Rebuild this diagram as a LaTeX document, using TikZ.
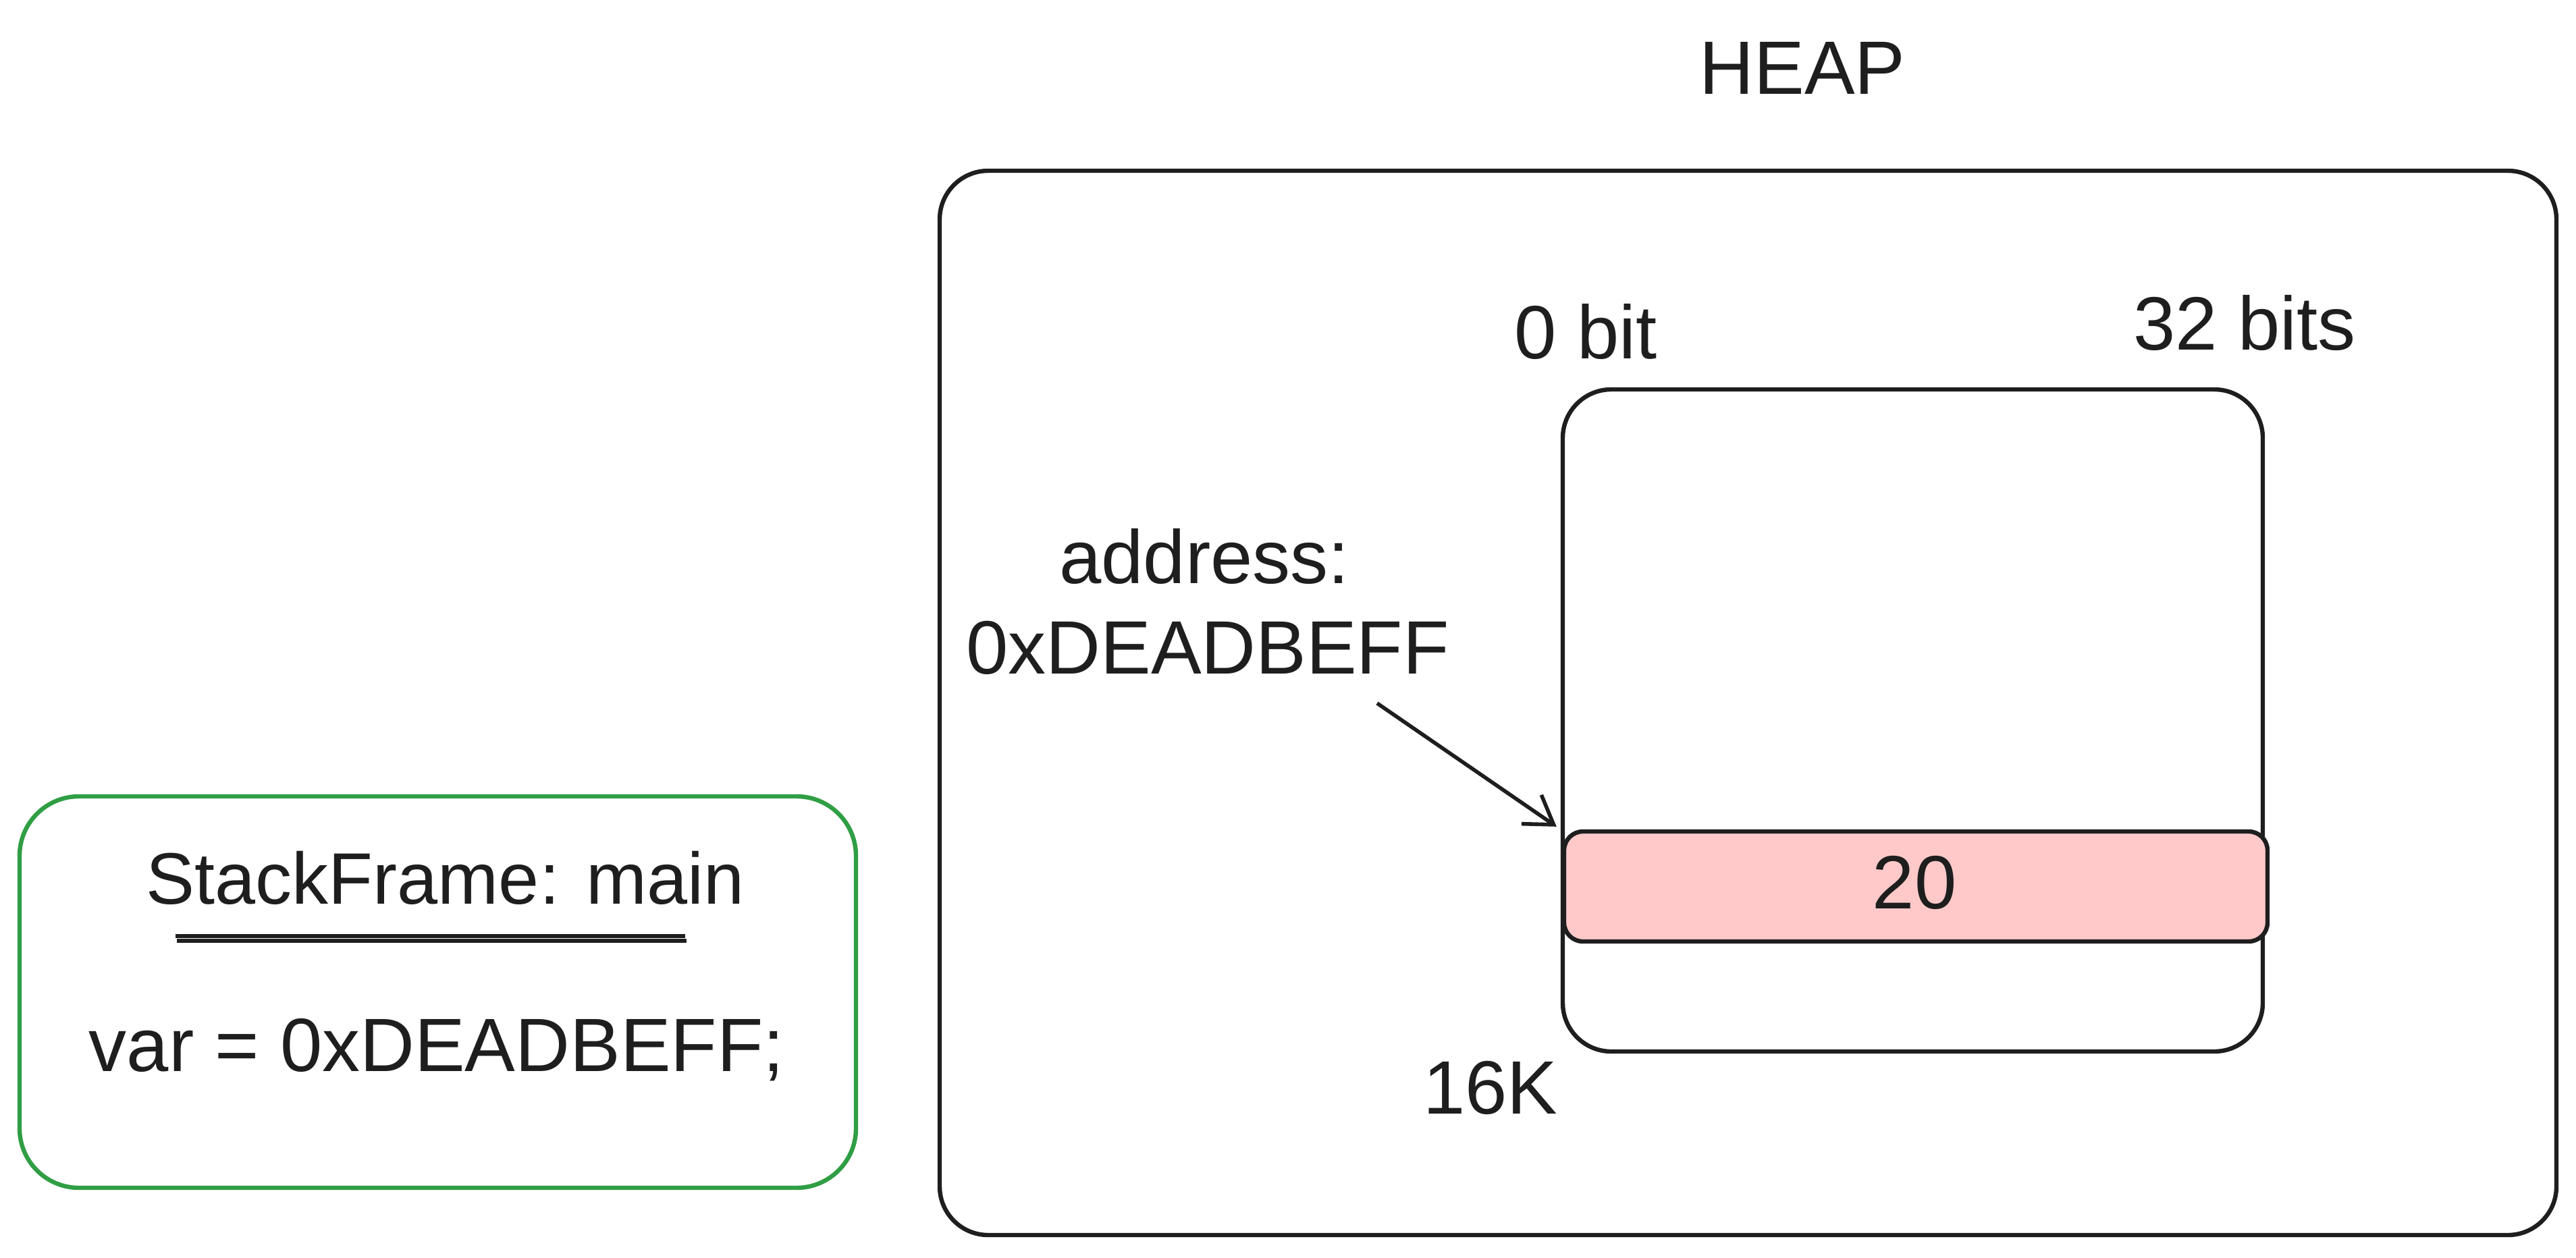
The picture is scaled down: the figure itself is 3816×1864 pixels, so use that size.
\documentclass[tikz,border=0pt]{standalone}
\usepackage{fontspec}
\setmainfont{Liberation Sans}
\usetikzlibrary{arrows.meta}
\definecolor{ink}{HTML}{1E1E1E}
\definecolor{grn}{HTML}{2F9E44}
\definecolor{barpink}{HTML}{FFC9C9}
\begin{document}
\begin{tikzpicture}[x=0.25pt,y=-0.25pt,
  lbl/.style={anchor=base,inner sep=0pt,text=ink,font=\fontsize{28}{34}\selectfont},
  heapbox/.style={draw=ink,line width=1.6pt,rounded corners=18pt,inner sep=0pt},
  stackbox/.style={draw=grn,line width=1.6pt,rounded corners=22pt,inner sep=0pt},
  cellbox/.style={draw=ink,fill=barpink,line width=1.6pt,rounded corners=7pt,inner sep=0pt},
  pointer/.style={draw=ink,line width=1.4pt,-{Straight Barb[length=10pt,width=13pt,line width=1.4pt]}}]
\useasboundingbox[fill=white] (0,0) rectangle (3816,1864);

% heap
\node[heapbox,minimum width=598.75pt,minimum height=394.25pt] (heap) at (2589.5,1041.5) {};
\node[lbl] (heaplbl) at (2670,139) {HEAP};
\node[heapbox,minimum width=259.25pt,minimum height=245.25pt] (mem) at (2833.5,1067.5) {};
\node[cellbox,minimum width=260.5pt,minimum height=40.75pt] (cell) at (2838,1313.5) {};
\node[lbl] (val) at (2836,1346) {20};
\node[lbl] (bit0) at (2349,531) {0 bit};
\node[lbl] (bit32) at (3325,518) {32 bits};
\node[lbl] (addr1) at (1784,864) {address:};
\node[lbl] (addr2) at (1789,998) {0xDEADBEFF};
\node[lbl] (size) at (2208,1650) {16K};
\coordinate (arrS) at (2040,1042);
\draw[pointer] (arrS) -- ([xshift=-2pt,yshift=1pt]cell.north west);

% stack frame
\node[stackbox,minimum width=309.75pt,minimum height=145pt] (stack) at (648.5,1470) {};
\node[lbl,font=\fontsize{27}{33}\selectfont] (sftitle) at (660,1339) {StackFrame: main};
\node[lbl] (sfvar) at (647,1587) {var = 0xDEADBEFF;};
\coordinate (ulA) at (260,1387);
\coordinate (ulB) at (1015,1387);
\coordinate (ulC) at (262,1394);
\coordinate (ulD) at (1017,1394);
\draw[ink,line width=1.6pt] (ulA) -- (ulB);
\draw[ink,line width=1.6pt] (ulC) -- (ulD);
\end{tikzpicture}
\end{document}
